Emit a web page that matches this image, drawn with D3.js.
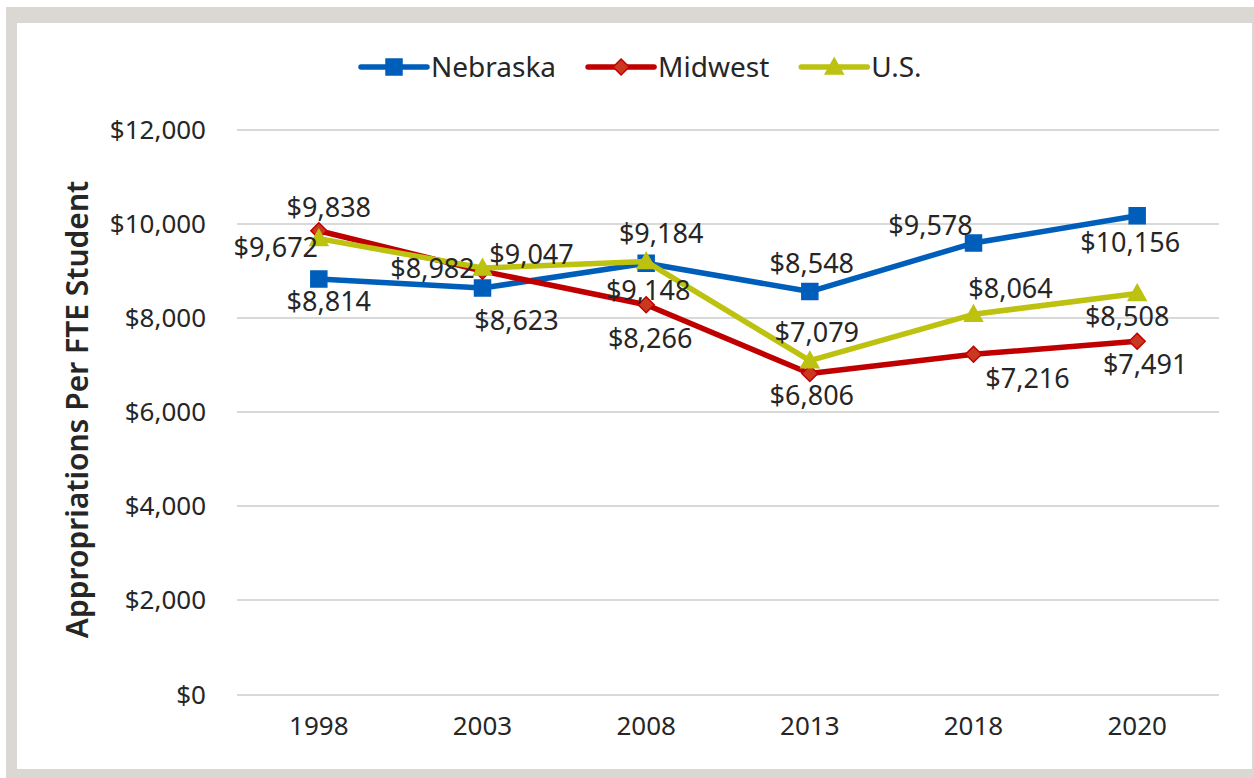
<!DOCTYPE html>
<html>
<head>
<meta charset="utf-8">
<title>Appropriations Per FTE Student</title>
<style>
body {
  margin: 0;
  background: #fff;
  font-family: "Noto Sans", sans-serif;
}
svg { display: block; }
.grid line {
  stroke: #d9d9d9;
  stroke-width: 2px;
  shape-rendering: crispEdges;
}
.dlabel {
  fill: #262626;
  font-size: 27px;
}
.legend text {
  fill: #262626;
  font-size: 28px;
}
.ytitle {
  fill: #262626;
  font-size: 30px;
  font-weight: 600;
}
.line {
  fill: none;
  stroke-width: 5.5px;
  stroke-linejoin: round;
}
</style>
<script src="https://cdn.jsdelivr.net/npm/d3@7"></script>
</head>
<body>
<script>
"use strict";
var years = ["1998", "2003", "2008", "2013", "2018", "2020"];
var nebraska = [8814, 8623, 9148, 8548, 9578, 10156];
var midwest = [9838, 8982, 8266, 6806, 7216, 7491];
var us = [9672, 9047, 9184, 7079, 8064, 8508];
var yTicks = [0, 2000, 4000, 6000, 8000, 10000, 12000];

var W = 1254, H = 778;
var plot = {left: 237, right: 1219, top: 129, bottom: 694};

// where Excel put each data label, relative to its point
var labelOffsets = {
  "Nebraska": [[10, 23], [34, 33], [2, 27], [2, -28], [-43, -17], [-7, 27]],
  "Midwest": [[10, -23], [-50, -3], [4, 34], [2, 22], [54, 24], [8, 23]],
  "U.S.": [[-43, 9], [49, -13], [15, -28], [7, -28], [37, -26], [-10, 23]]
};

var series = [
  {name: "Nebraska", values: nebraska, color: "#005ebb", fill: "#005ebb", marker: "square"},
  {name: "Midwest", values: midwest, color: "#c00000", fill: "#c9381f", marker: "diamond"},
  {name: "U.S.", values: us, color: "#bcc20f", fill: "#bcc20f", marker: "triangle"}
];

var svg = d3.select("body").append("svg")
    .attr("width", W)
    .attr("height", H);

// frame
svg.append("rect")
    .attr("x", 6).attr("y", 7)
    .attr("width", W - 6).attr("height", H - 7)
    .attr("fill", "#dbd8d4");
svg.append("rect")
    .attr("x", 17).attr("y", 23)
    .attr("width", 1235).attr("height", 746)
    .attr("fill", "#fff");

var x = d3.scaleBand()
    .domain(years)
    .range([plot.left, plot.right]);

var y = d3.scaleLinear()
    .domain([0, 12000])
    .range([plot.bottom, plot.top]);

function cx(i) { return x(years[i]) + x.bandwidth() / 2; }

// gridlines + y labels
var yAxis = svg.append("g")
    .attr("class", "grid")
    .attr("transform", "translate(" + plot.left + ",0)")
    .call(d3.axisLeft(y)
        .tickValues(yTicks)
        .tickSize(-(plot.right - plot.left))
        .tickPadding(31)
        .tickFormat(function(d) { return "$" + d3.format(",")(d); }));
yAxis.select(".domain").remove();
yAxis.selectAll("text").attr("dy", "0.35em");

var xAxis = svg.append("g")
    .attr("transform", "translate(0," + plot.bottom + ")")
    .call(d3.axisBottom(x).tickSize(0).tickPadding(23));
xAxis.select(".domain").remove();
xAxis.selectAll("text").attr("dy", "0.71em");
svg.selectAll(".tick text")
    .style("font-family", "'Noto Sans', sans-serif")
    .style("font-size", "26px")
    .attr("fill", "#262626");

svg.append("text")
    .attr("class", "ytitle")
    .attr("transform", "translate(88," + ((plot.top + plot.bottom) / 2 - 2) + ") rotate(-90)")
    .attr("text-anchor", "middle")
    .text("Appropriations Per FTE Student");

function markerPath(type) {
  if (type === "square") return d3.symbol(d3.symbolSquare, 256)();
  if (type === "triangle") return "M0,-9L9,7L-9,7Z";
  return "M0,-8L8,0L0,8L-8,0Z";
}

var line = d3.line()
    .x(function(d, i) { return cx(i); })
    .y(function(d) { return y(d); });

series.forEach(function(s) {
  var g = svg.append("g");
  g.append("path")
      .datum(s.values)
      .attr("class", "line")
      .attr("stroke", s.color)
      .attr("d", line);
  g.selectAll(".mark")
      .data(s.values)
    .enter().append("path")
      .attr("class", "mark")
      .attr("transform", function(d, i) { return "translate(" + cx(i) + "," + y(d) + ")"; })
      .attr("d", markerPath(s.marker))
      .attr("fill", s.fill)
      .attr("stroke", s.color)
      .attr("stroke-width", 1.5);
});

// data labels on top
series.forEach(function(s) {
  svg.append("g").selectAll("text")
      .data(s.values)
    .enter().append("text")
      .attr("class", "dlabel")
      .attr("x", function(d, i) { return cx(i) + labelOffsets[s.name][i][0]; })
      .attr("y", function(d, i) { return y(d) + labelOffsets[s.name][i][1]; })
      .attr("dy", "0.35em")
      .attr("text-anchor", "middle")
      .text(function(d) { return "$" + d3.format(",")(d); });
});

// legend
var legend = svg.append("g")
    .attr("class", "legend")
    .attr("transform", "translate(361,67)");
var lx = 0;
series.forEach(function(s) {
  var item = legend.append("g").attr("transform", "translate(" + lx + ",0)");
  item.append("line")
      .attr("x1", 0).attr("x2", 66)
      .attr("stroke", s.color)
      .attr("stroke-width", 5.5)
      .attr("stroke-linecap", "round");
  item.append("path")
      .attr("transform", "translate(33,0)")
      .attr("d", markerPath(s.marker))
      .attr("fill", s.fill)
      .attr("stroke", s.color)
      .attr("stroke-width", 1.5);
  var t = item.append("text")
      .attr("x", 70)
      .attr("dy", "0.35em")
      .text(s.name);
  lx += 70 + t.node().getComputedTextLength() + 32;
});
</script>
</body>
</html>
